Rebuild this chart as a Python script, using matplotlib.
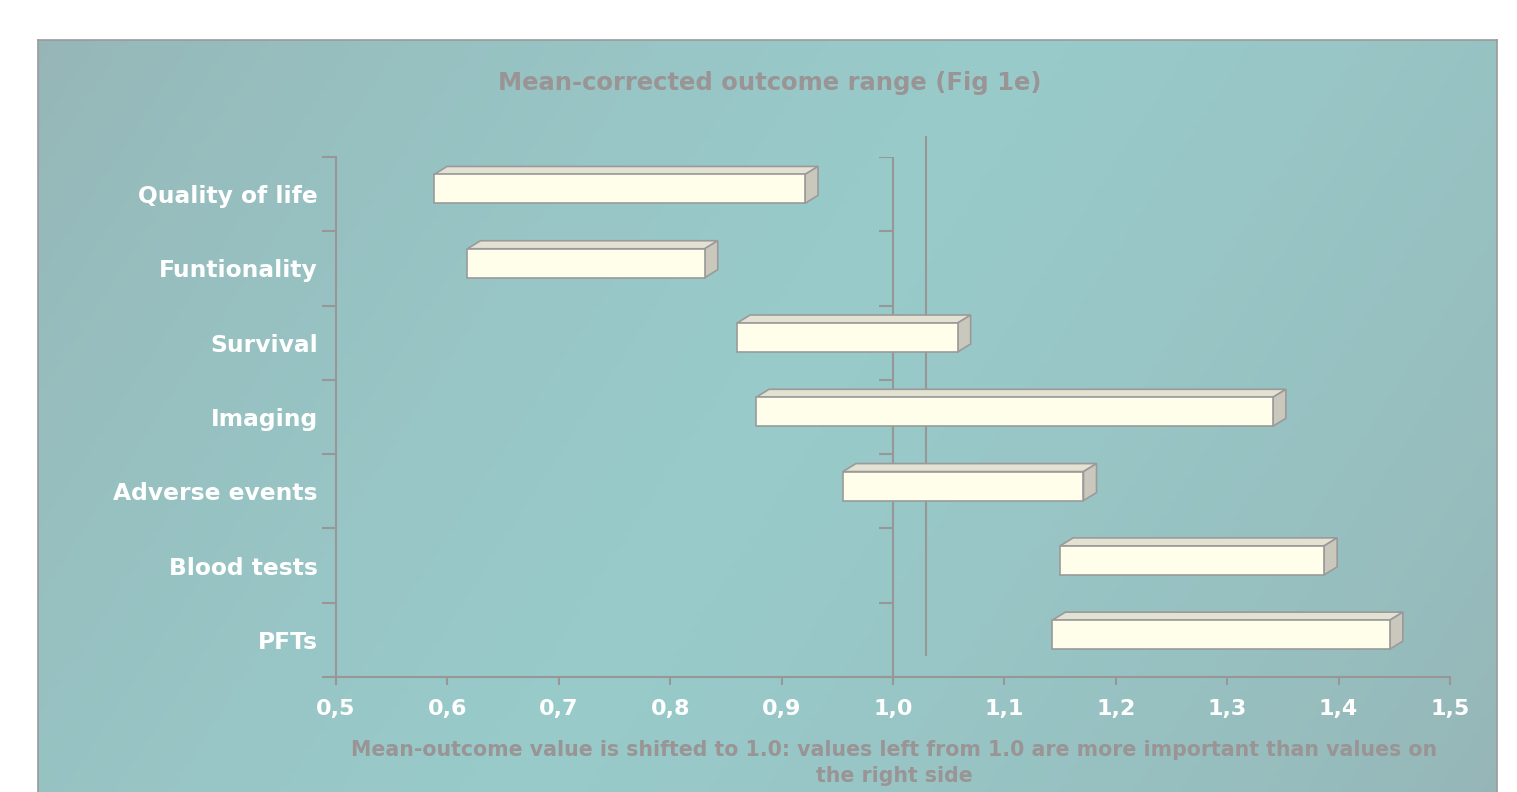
import numpy as np
import matplotlib
matplotlib.use('Agg')
import matplotlib.pyplot as plt
from matplotlib.patches import Polygon
from matplotlib.lines import Line2D

plt.rcParams['font.family'] = ['DejaVu Sans']

# data
categories = ['Quality of life', 'Funtionality', 'Survival', 'Imaging',
              'Adverse events', 'Blood tests', 'PFTs']
range_low = [0.588, 0.618, 0.860, 0.877, 0.955, 1.150, 1.143]
range_high = [0.921, 0.831, 1.058, 1.341, 1.171, 1.387, 1.446]
mean_value = 1.03
x_ticks = [0.5, 0.6, 0.7, 0.8, 0.9, 1.0, 1.1, 1.2, 1.3, 1.4, 1.5]

title = 'Mean-corrected outcome range (Fig 1e)'
xlabel = ('Mean-outcome value is shifted to 1.0: values left from 1.0 are more '
          'important than values on\nthe right side')

W, H = 1517, 792
fig = plt.figure(figsize=(W / 100, H / 100), dpi=100)
fig.patch.set_facecolor('white')

# gradient panel behind the chart
bg = fig.add_axes([38 / W, 0, (1497 - 38) / W, (H - 40) / H])
bg.set_zorder(-5)
nx, ny = 300, 160
gx, gy = np.meshgrid(np.linspace(0, 1, nx), np.linspace(0, 1, ny))
t = (gx * 0.75 + gy * 0.25)
w = np.clip(1 - np.abs(t - 0.5) * 2, 0, 1) ** 0.7
c_edge = np.array([150, 181, 182]) / 255
c_mid = np.array([153, 203, 203]) / 255
img = c_edge[None, None, :] * (1 - w[..., None]) + c_mid[None, None, :] * w[..., None]
bg.imshow(img, aspect='auto', extent=[0, 1, 0, 1], origin='upper')
bg.set_xticks([])
bg.set_yticks([])
for s in bg.spines.values():
    s.set_color('#9a9a9a')
    s.set_linewidth(1.2)
bg.spines['bottom'].set_visible(False)

ax = fig.add_axes([336 / W, 1 - 677 / H, (1450 - 336) / W, (677 - 157) / H])
ax.set_facecolor('none')
n = len(categories)
ypos = np.arange(n)
ax.set_xlim(0.5, 1.5)
ax.set_ylim(n - 0.5, -0.5)

axis_col = '#979797'
for s in ['top', 'right']:
    ax.spines[s].set_visible(False)
for s in ['left', 'bottom']:
    ax.spines[s].set_color(axis_col)
    ax.spines[s].set_linewidth(1.5)

ax.set_xticks(x_ticks)
ax.set_xticklabels([f'{v:.1f}'.replace('.', ',') for v in x_ticks],
                   color='white', fontsize=16, fontweight='bold')
ax.tick_params(axis='x', direction='out', length=6, width=1.5, color=axis_col, pad=10)

ax.set_yticks(ypos)
ax.set_yticklabels(categories, color='white', fontsize=16.8, fontweight='bold')
ax.tick_params(axis='y', length=0, pad=13)
bounds = np.arange(n + 1) - 0.5
ax.set_yticks(bounds, minor=True)
ax.tick_params(axis='y', which='minor', direction='out', length=10, width=1.5, color=axis_col)

# second axis line at 1.0 with its own ticks
ax.axvline(1.0, color=axis_col, lw=1.5, zorder=1)
ax.plot([1.0] * len(bounds), bounds, linestyle='none', marker=0, markersize=10,
        markeredgewidth=1.5, color=axis_col, zorder=1)

# mean line
ax.add_line(Line2D([mean_value, mean_value], [-0.77, n - 0.8], color=axis_col,
                   lw=1.5, clip_on=False, zorder=1))

# 3d-looking floating bars
h = 0.39
off = 0.07
dx, dy = 0.0117, 0.108
edge = '#9a9a9a'
for y, lo, hi in zip(ypos, range_low, range_high):
    top = y - off - h / 2
    bot = y - off + h / 2
    ax.add_patch(Polygon([(lo, top), (lo + dx, top - dy), (hi + dx, top - dy), (hi, top)],
                         closed=True, facecolor='#e3e1d2', edgecolor=edge, lw=1.2, zorder=3))
    ax.add_patch(Polygon([(hi, top), (hi + dx, top - dy), (hi + dx, bot - dy), (hi, bot)],
                         closed=True, facecolor='#cac8bc', edgecolor=edge, lw=1.2, zorder=3))
    ax.barh(y - off, hi - lo, left=lo, height=h, color='#fffeea', edgecolor=edge,
            linewidth=1.2, zorder=4)

fig.text(770 / W, 1 - 83 / H, title, ha='center', va='center', fontsize=17.5,
         fontweight='bold', color='#9a9494')
fig.text(894 / W, 1 - 763 / H, xlabel, ha='center', va='center', fontsize=14.8,
         fontweight='bold', color='#9a9494', linespacing=1.35)

fig.savefig('out.png', dpi=100)
